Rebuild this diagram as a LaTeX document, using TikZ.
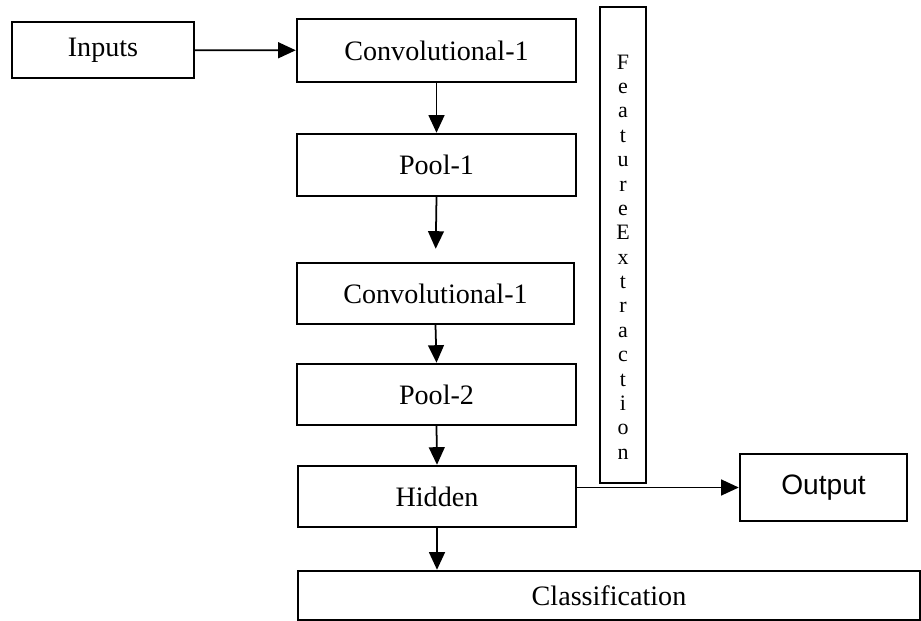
\documentclass[tikz,border=0pt]{standalone}
\usepackage{fontspec}
\setmainfont{Liberation Serif}
\newfontfamily\outfont{Liberation Sans}
\usetikzlibrary{arrows.meta}

\tikzset{
    blk/.style={draw, line width=1.4pt, inner sep=0pt, font=\fontsize{16}{18}\selectfont},
    arr/.style={line width=1pt, -{Triangle[length=10pt, width=9pt]}}
}

\begin{document}
\begin{tikzpicture}
    \useasboundingbox (0, 0) rectangle (18.42, -12.42);
    \node [blk, minimum width=3.64cm, minimum height=1.12cm] (inputs) at (2.06, -1.00) {Inputs};
    \node [blk, minimum width=5.58cm, minimum height=1.26cm] (conva) at (8.73, -1.01) {Convolutional-1};
    \node [blk, minimum width=5.58cm, minimum height=1.24cm] (poola) at (8.73, -3.30) {Pool-1};
    \node [blk, minimum width=5.54cm, minimum height=1.22cm] (convb) at (8.71, -5.87) {Convolutional-1};
    \node [blk, minimum width=5.58cm, minimum height=1.22cm] (poolb) at (8.73, -7.89) {Pool-2};
    \node [blk, minimum width=5.56cm, minimum height=1.22cm] (hidden) at (8.74, -9.93) {Hidden};
    \node [blk, minimum width=12.44cm, minimum height=0.98cm] (classif) at (12.18, -11.91) {Classification};
    \node [blk, font=\outfont\fontsize{16}{18}\selectfont, minimum width=3.34cm, minimum height=1.34cm] (output) at (16.47, -9.75) {Output};
    \node [draw, line width=0.9pt, minimum width=0.92cm, minimum height=9.52cm] (feat) at (12.46, -4.90) {};
    \node [align=center, font=\fontsize{12.5}{13.87}\selectfont] (feattext) at (12.46, -5.14)
	{F\\e\\a\\t\\u\\r\\e\\E\\x\\t\\r\\a\\c\\t\\i\\o\\n};
    \draw [arr] (inputs) -- (conva);
    \draw [arr] (conva.south) -- (poola.north);
    \draw [arr, shorten >=0.26cm] (poola.south) -- (convb.north);
    \draw [arr] (convb.south) -- (poolb.north);
    \draw [arr] (poolb.south) -- (hidden.north);
    \draw [arr] (hidden.east |- output.west) -- (output.west);
    \draw [arr] (hidden.south) -- (hidden.south |- classif.north);
\end{tikzpicture}
\end{document}
